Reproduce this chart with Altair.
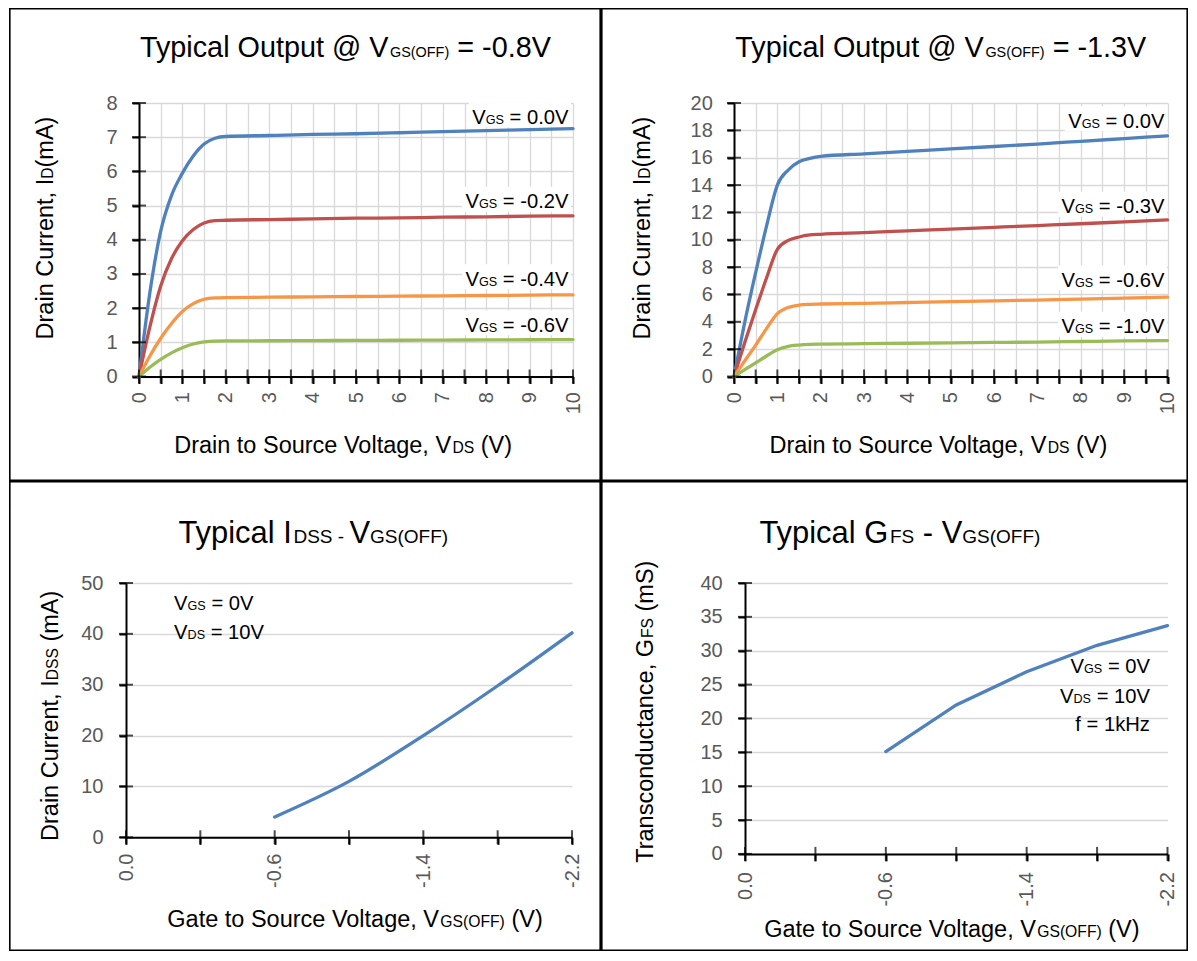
import altair as alt
import pandas as pd

FONT = "Liberation Sans, Arial, Helvetica, sans-serif"
LINE_COLORS = ["#4F81BD", "#C0504D", "#F79646", "#9BBB59"]
BLUE = "#4F81BD"
LABEL_GRAY = "#595959"
GRID_GRAY = "#d9d9d9"

# ---------------- data ----------------
VDS = [0, 0.25, 0.5, 0.75, 1, 1.25, 1.5, 1.75, 2, 3, 4, 5, 6, 7, 8, 9, 10]

# Typical Output @ VGS(OFF) = -0.8V
A_VGS = ["0.0V", "-0.2V", "-0.4V", "-0.6V"]
A_ID_1 = [0, 2.45, 4.25, 5.3, 5.95, 6.45, 6.8, 6.97, 7.02, 7.05, 7.08, 7.1, 7.13, 7.16, 7.19, 7.22, 7.25]
A_ID_2 = [0, 1.45, 2.65, 3.45, 3.97, 4.3, 4.49, 4.56, 4.57, 4.59, 4.61, 4.63, 4.64, 4.66, 4.67, 4.69, 4.7]
A_ID_3 = [0, 0.6, 1.12, 1.55, 1.9, 2.13, 2.26, 2.3, 2.31, 2.32, 2.33, 2.34, 2.35, 2.36, 2.37, 2.38, 2.39]
A_ID_4 = [0, 0.27, 0.5, 0.69, 0.84, 0.95, 1.01, 1.035, 1.04, 1.045, 1.05, 1.055, 1.06, 1.065, 1.07, 1.075, 1.08]

# Typical Output @ VGS(OFF) = -1.3V
B_VGS = ["0.0V", "-0.3V", "-0.6V", "-1.0V"]
B_ID_1 = [0, 4.0, 7.6, 11.0, 14.0, 15.1, 15.7, 15.95, 16.1, 16.28, 16.46, 16.64, 16.82, 17.0, 17.2, 17.4, 17.6]
B_ID_2 = [0, 2.5, 4.9, 7.2, 9.3, 9.95, 10.2, 10.35, 10.4, 10.52, 10.65, 10.78, 10.91, 11.04, 11.17, 11.31, 11.45]
B_ID_3 = [0, 1.15, 2.3, 3.5, 4.6, 5.05, 5.22, 5.28, 5.3, 5.35, 5.41, 5.47, 5.53, 5.59, 5.66, 5.73, 5.8]
B_ID_4 = [0, 0.5, 1.0, 1.5, 1.95, 2.2, 2.3, 2.35, 2.37, 2.4, 2.43, 2.46, 2.49, 2.52, 2.56, 2.6, 2.63]

# IDSS / GFS vs VGS(OFF)
VGSOFF = ["0.0", "-0.3", "-0.6", "-1.0", "-1.4", "-1.8", "-2.2"]
VGSOFF_SHOWN = ["0.0", "-0.6", "-1.4", "-2.2"]
IDSS = [None, None, 4.0, 11.0, 20.0, 29.8, 40.2]
GFS = [None, None, 15.1, 22.0, 26.9, 30.8, 33.7]

XTICKS_VDS = [0, 0.5, 1, 1.5, 2, 2.5, 3, 3.5, 4, 4.5, 5, 5.5, 6, 6.5, 7, 7.5, 8, 8.5, 9, 9.5, 10]
YTICKS_A = [0, 1, 2, 3, 4, 5, 6, 7, 8]
YTICKS_B = [0, 2, 4, 6, 8, 10, 12, 14, 16, 18, 20]
YTICKS_C = [0, 10, 20, 30, 40, 50]
YTICKS_D = [0, 5, 10, 15, 20, 25, 30, 35, 40]
RANKS = ["c1", "c2", "c3", "c4"]

# ---------------- layout (page pixel positions) ----------------
PANELS = {
    "p1": dict(ox=139, oy=103, w=434, h=273.5, cell=(9, 8, 601, 481)),
    "p2": dict(ox=734, oy=103, w=433.5, h=273.5, cell=(601, 8, 1188, 481)),
    "p3": dict(ox=126, oy=583, w=446, h=254.3, cell=(9, 481, 601, 951)),
    "p4": dict(ox=745, oy=583, w=422.5, h=270.9, cell=(601, 481, 1188, 951)),
}
BW = 1.6
LW = 3.3

AW = {' ': 278, '!': 278, '(': 333, ')': 333, ',': 278, '-': 333, '.': 278, '=': 584, '@': 1015,
      'A': 667, 'B': 667, 'C': 722, 'D': 722, 'E': 667, 'F': 611, 'G': 778, 'H': 722, 'I': 278,
      'J': 500, 'K': 667, 'L': 556, 'M': 833, 'N': 722, 'O': 778, 'P': 667, 'Q': 778, 'R': 722,
      'S': 667, 'T': 611, 'U': 722, 'V': 667, 'W': 944, 'X': 667, 'Y': 667, 'Z': 611,
      'a': 556, 'b': 556, 'c': 500, 'd': 556, 'e': 556, 'f': 278, 'g': 556, 'h': 556, 'i': 222,
      'j': 222, 'k': 500, 'l': 222, 'm': 833, 'n': 556, 'o': 556, 'p': 556, 'q': 556, 'r': 333,
      's': 500, 't': 278, 'u': 556, 'v': 500, 'w': 722, 'x': 500, 'y': 500, 'z': 500}
for _d in "0123456789":
    AW[_d] = 556

ONE = pd.DataFrame({"k": [0]})


def tw(t, s):
    return sum(AW.get(c, 556) for c in t) * s / 1000.0


def rich(key, pieces, px, py, align="left", angle=0, color="black"):
    p = PANELS[key]
    x, y = px - p["ox"], py - p["oy"]
    widths = [tw(t, s) for t, s in pieces]
    total = sum(widths)
    off = {"left": 0.0, "center": -total / 2, "right": -total}[align]
    out = []
    for (t, s), w in zip(pieces, widths):
        lead = len(t) - len(t.lstrip(" "))
        core = t.strip(" ")
        d = off + lead * AW[" "] * s / 1000.0
        props = dict(text=core, font=FONT, fontSize=s, align="left", baseline="alphabetic",
                     dx=round(d, 2), color=color)
        if angle:
            props["angle"] = angle
        out.append(alt.Chart(ONE).mark_text(**props).encode(
            x=alt.value(round(x, 2)), y=alt.value(round(y, 2))))
        off += w
    return out, total


def box(key, x1, y1, x2, y2):
    p = PANELS[key]
    return alt.Chart(ONE).mark_rect(color="white").encode(
        x=alt.value(round(x1 - p["ox"], 2)), x2=alt.value(round(x2 - p["ox"], 2)),
        y=alt.value(round(y1 - p["oy"], 2)), y2=alt.value(round(y2 - p["oy"], 2)))


def border(key):
    p = PANELS[key]
    x1, y1, x2, y2 = p["cell"]
    h = BW / 2
    return alt.Chart(ONE).mark_rect(fillOpacity=0, stroke="black", strokeWidth=BW).encode(
        x=alt.value(round(x1 - p["ox"] + h, 2)), x2=alt.value(round(x2 - p["ox"] - h, 2)),
        y=alt.value(round(y1 - p["oy"] + h, 2)), y2=alt.value(round(y2 - p["oy"] - h, 2)))


def spacer():
    return alt.Chart(ONE).mark_rect(opacity=0).encode(
        x=alt.value(0), x2=alt.value(1), y=alt.value(0), y2=alt.value(1)
    ).properties(width=1, height=1)


TITLE_M, TITLE_S = 28.8, 14.4
TITLE2_M, TITLE2_S = 30.9, 19.0
AX_M, AX_S = 23.5, 15.7
AN_M, AN_S = 20.2, 12.6


def y_axis(values, pad):
    return alt.Axis(values=values, format="d", labelPadding=pad, labelFlush=False,
                    labelOverlap=False, title=None)


def output_panel(key, labels, series, ymax, yticks, title_val, ypad, xpad,
                 title_pos, ytitle_pos, xtitle_pos, ann_right, ann_base):
    p = PANELS[key]
    rows = []
    for rank, lab, vals in zip(RANKS, labels, series):
        for xv, yv in zip(VDS, vals):
            rows.append({"vds": xv, "id": yv, "vgs": "VGS = " + lab, "curve": rank})
    df = pd.DataFrame(rows)
    xs = alt.Scale(domain=[0, 10], nice=False, zero=False)
    ys = alt.Scale(domain=[0, ymax], nice=False)
    xax = alt.Axis(values=XTICKS_VDS, labelExpr="datum.value % 1 === 0 ? format(datum.value, 'd') : ''",
                   labelAngle=270, labelPadding=xpad, labelOverlap=False, labelFlush=False, title=None)
    yax = y_axis(yticks, ypad)
    lines = alt.Chart(df).mark_line(strokeWidth=LW, interpolate="monotone", strokeCap="round").encode(
        x=alt.X("vds:Q", scale=xs, axis=xax),
        y=alt.Y("id:Q", scale=ys, axis=yax),
        color=alt.Color("curve:N", scale=alt.Scale(domain=RANKS, range=LINE_COLORS), legend=None),
        detail="vgs:N",
    )
    xt = alt.Chart(pd.DataFrame({"vds": XTICKS_VDS})).mark_tick(
        orient="vertical", size=14, thickness=2, color="black").encode(
        x=alt.X("vds:Q", scale=xs, axis=xax), y=alt.YDatum(0, scale=ys, axis=yax))
    yt = alt.Chart(pd.DataFrame({"id": yticks})).mark_tick(
        orient="horizontal", size=14, thickness=2, color="black").encode(
        y=alt.Y("id:Q", scale=ys, axis=yax), x=alt.XDatum(0, scale=xs, axis=xax))

    texts = []
    boxes = []
    for lab, base in zip(labels, ann_base):
        t, total = rich(key, [("V", AN_M), ("GS", AN_S), (" = " + lab, AN_M)], ann_right, base, "right")
        boxes.append(box(key, ann_right - total - 3.5, base - 21.5, ann_right + 2.5, base + 3.5))
        texts += t
    t, _ = rich(key, [("Typical Output @ V", TITLE_M), ("GS(OFF)", TITLE_S), (" = " + title_val, TITLE_M)],
                title_pos[0], title_pos[1], "center")
    texts += t
    t, _ = rich(key, [("Drain Current, I", AX_M), ("D", AX_S), ("(mA)", AX_M)],
                ytitle_pos[0], ytitle_pos[1], "center", angle=270)
    texts += t
    t, _ = rich(key, [("Drain to Source Voltage, V", AX_M), ("DS", AX_S), (" (V)", AX_M)],
                xtitle_pos[0], xtitle_pos[1], "center")
    texts += t
    layers = [border(key)] + boxes + [lines, xt, yt] + texts
    return alt.layer(*layers).properties(width=p["w"], height=p["h"])


def vgsoff_panel(key, values, ymax, yticks, interp, ypad, xpad, title_pieces, title_pos,
                 ytitle_pieces, ytitle_pos, xtitle_pos, ann_rows, ann_align, ann_x):
    p = PANELS[key]
    df = pd.DataFrame({"cat": VGSOFF, "val": values}).dropna()
    xs = alt.Scale(type="point", domain=VGSOFF, padding=0)
    ys = alt.Scale(domain=[0, ymax], nice=False)
    shown = "[" + ",".join("'" + s + "'" for s in VGSOFF_SHOWN) + "]"
    xax = alt.Axis(labelExpr="indexof(" + shown + ", datum.label) >= 0 ? datum.label : ''",
                   labelAngle=270, labelPadding=xpad, labelOverlap=False, labelFlush=False, title=None)
    yax = y_axis(yticks, ypad)
    line = alt.Chart(df).mark_line(strokeWidth=LW, interpolate=interp, strokeCap="round", color=BLUE).encode(
        x=alt.X("cat:N", scale=xs, sort=VGSOFF, axis=xax),
        y=alt.Y("val:Q", scale=ys, axis=yax),
    )
    xt = alt.Chart(pd.DataFrame({"cat": VGSOFF})).mark_tick(
        orient="vertical", size=14, thickness=2, color="black").encode(
        x=alt.X("cat:N", scale=xs, sort=VGSOFF, axis=xax), y=alt.YDatum(0, scale=ys, axis=yax))
    yt = alt.Chart(pd.DataFrame({"val": yticks})).mark_tick(
        orient="horizontal", size=14, thickness=2, color="black").encode(
        y=alt.Y("val:Q", scale=ys, axis=yax), x=alt.XDatum(VGSOFF[0], scale=xs, axis=xax))
    texts = []
    t, _ = rich(key, title_pieces, title_pos[0], title_pos[1], "center")
    texts += t
    t, _ = rich(key, ytitle_pieces, ytitle_pos[0], ytitle_pos[1], "center", angle=270)
    texts += t
    t, _ = rich(key, [("Gate to Source Voltage, V", AX_M), ("GS(OFF)", AX_S), (" (V)", AX_M)],
                xtitle_pos[0], xtitle_pos[1], "center")
    texts += t
    for pieces, base in ann_rows:
        t, _ = rich(key, pieces, ann_x, base, ann_align)
        texts += t
    layers = [border(key), line, xt, yt] + texts
    return alt.layer(*layers).properties(width=p["w"], height=p["h"])


p1 = output_panel("p1", A_VGS, [A_ID_1, A_ID_2, A_ID_3, A_ID_4], 8, YTICKS_A, "-0.8V",
                  ypad=15, xpad=8, title_pos=(345.4, 57), ytitle_pos=(53.3, 228),
                  xtitle_pos=(343.1, 453.3), ann_right=568.5,
                  ann_base=[123.7, 208.3, 285.7, 331.7])
p2 = output_panel("p2", B_VGS, [B_ID_1, B_ID_2, B_ID_3, B_ID_4], 20, YTICKS_B, "-1.3V",
                  ypad=14.7, xpad=8, title_pos=(940.8, 57), ytitle_pos=(649.5, 228),
                  xtitle_pos=(938.4, 453.3), ann_right=1164.5,
                  ann_base=[127.7, 213.3, 286.7, 333.3])
p3 = vgsoff_panel("p3", IDSS, 50, YTICKS_C, "monotone", ypad=16, xpad=8.7,
                  title_pieces=[("Typical I", TITLE2_M), ("DSS - ", TITLE2_S), ("V", TITLE2_M), ("GS(OFF)", TITLE2_S)],
                  title_pos=(313.3, 543),
                  ytitle_pieces=[("Drain Current, I", AX_M), ("DSS", AX_S), (" (mA)", AX_M)],
                  ytitle_pos=(57.5, 715.8), xtitle_pos=(355, 926.7),
                  ann_rows=[([("V", AN_M), ("GS", AN_S), (" = 0V", AN_M)], 610),
                            ([("V", AN_M), ("DS", AN_S), (" = 10V", AN_M)], 639.3)],
                  ann_align="left", ann_x=174.1)
p4 = vgsoff_panel("p4", GFS, 40, YTICKS_D, "linear", ypad=15.8, xpad=10.7,
                  title_pieces=[("Typical G", TITLE2_M), ("FS", TITLE2_S), (" - V", TITLE2_M), ("GS(OFF)", TITLE2_S)],
                  title_pos=(899.9, 543),
                  ytitle_pieces=[("Transconductance, G", AX_M), ("FS", AX_S), (" (mS)", AX_M)],
                  ytitle_pos=(653.3, 711.7), xtitle_pos=(951.9, 936.7),
                  ann_rows=[([("V", AN_M), ("GS", AN_S), (" = 0V", AN_M)], 673.3),
                            ([("V", AN_M), ("DS", AN_S), (" = 10V", AN_M)], 702.7),
                            ([("f = 1kHz", AN_M)], 730.7)],
                  ann_align="right", ann_x=1150)

chart = alt.vconcat(
    alt.hconcat(spacer(), p1, p2, spacing=0),
    alt.hconcat(spacer(), p3, p4, spacing=0),
    spacing=0,
).properties(padding=0, background="white").configure_view(strokeWidth=0).configure_axis(
    domainColor="black", domainWidth=2, tickColor="black", tickWidth=2, tickSize=7,
    gridColor=GRID_GRAY, gridWidth=1.3, labelColor=LABEL_GRAY, labelFont=FONT, labelFontSize=20,
)

chart.save("out.html", embed_options={"renderer": "svg", "actions": False})
